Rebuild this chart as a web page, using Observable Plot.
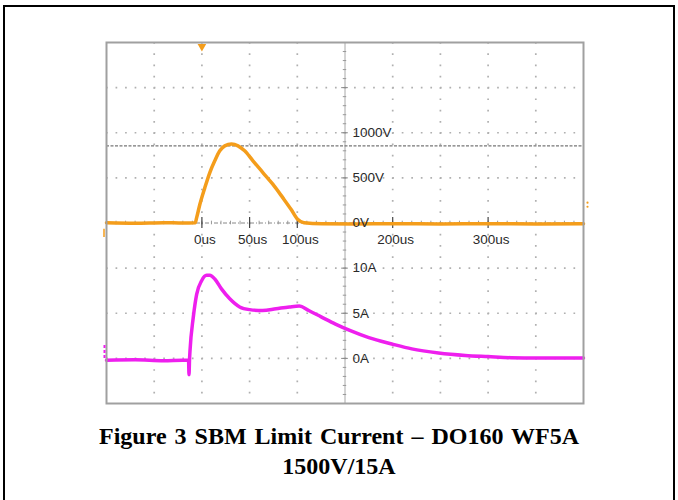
<!DOCTYPE html>
<html><head><meta charset="utf-8">
<script src="https://cdn.jsdelivr.net/npm/d3@7"></script>
<script src="https://cdn.jsdelivr.net/npm/@observablehq/plot@0.6"></script>
<style>
html,body{margin:0;padding:0;background:#fff;width:678px;height:500px;overflow:hidden;}
#page{position:relative;width:678px;height:500px;}
#frame{position:absolute;left:3px;top:5px;width:672px;height:520px;border:2px solid #000;box-sizing:border-box;}
#chart{position:absolute;left:0;top:0;}
#title{position:absolute;left:0;top:421px;width:678px;text-align:center;font-family:"Liberation Serif","Times New Roman",serif;font-weight:bold;font-size:24px;line-height:30px;color:#000;}
#title .l1{word-spacing:2px;}
</style></head>
<body><div id="page"><div id="frame"></div><div id="chart"></div><div id="title"><span class="l1">Figure 3 SBM Limit Current – DO160 WF5A</span><br>1500V/15A</div></div>
<script>
// ---- data read from the scope capture ----
const voltTime  = [-100, -70, -40, -20, -7, -5.5, -2.1, 3.1, 8.3, 13.5, 18.75, 24, 31, 37.8, 44.8, 53.5, 63.9, 74.3, 84.7, 93.4, 100.3, 107, 126, 160, 200, 250, 300, 350, 400];
const voltValue = [3, -2, 4, 0, 2, 59, 208, 392, 559, 689, 800, 855, 874, 855, 800, 689, 559, 430, 281, 152, 41, 3, -8, -10, -8, -10, -8, -10, -8];

const currTime  = [-100, -70, -40, -20, -14, -13.5, -13, -12.5, -9.1, -5.5, -0.3, 4.9, 8.3, 13.5, 20.5, 29.2, 39.6, 50, 63.5, 77.8, 91.7, 102, 112, 125, 140, 155, 175, 199, 220, 248, 276, 300, 324, 352, 400];
const currValue = [-0.2, -0.15, -0.25, -0.2, -0.2, -1.8, -0.2, 0.8, 4.5, 7.1, 8.6, 9.2, 9.2, 8.8, 7.7, 6.6, 5.7, 5.4, 5.3, 5.5, 5.7, 5.8, 5.3, 4.6, 3.8, 3.1, 2.3, 1.6, 1.05, 0.6, 0.33, 0.2, 0.08, 0.05, 0.05];

const timeTicks    = [0, 50, 100, 200, 300];       // us
const voltTicks    = [0, 500, 1000];               // V
const currentTicks = [0, 5, 10];                   // A
const cursorLevels = [855];                        // V (horizontal cursor)
const triggerTime  = [0];                          // us
const triggerLevels = [180, 225];                  // V (right-edge marker)

// scope settings: 50 us/div, 500 V/div, 5 A/div, CH2 offset 3 div below CH1
const timeDomain = [-100, 400];
const yDomain = [-2000, 2000];
const ampToUnits = 100;
const currentOffset = -1500;

const orange = "#f49d1b", magenta = "#ee1fee";
const W = 678, H = 410, mL = 106, mR = 95, mT = 42, mB = 7;
const pxPerUs = (W - mL - mR) / (timeDomain[1] - timeDomain[0]);
const pxPerUnit = (H - mT - mB) / (yDomain[1] - yDomain[0]);

const volt = voltTime.map((t, i) => ({t, v: voltValue[i]}));
const curr = currTime.map((t, i) => ({t, v: currentOffset + currValue[i] * ampToUnits}));

const gridX = d3.range(-50, 400, 50).filter(t => t !== 150);
const gridY = d3.range(-1500, 2000, 500).filter(v => v !== 0);
const dotV = 1.7;
const periodY = 125 * pxPerUnit;   // quarter division vertically
const periodX = 10 * pxPerUs;      // fifth division horizontally

const chart = Plot.plot({
  width: W, height: H,
  marginLeft: mL, marginRight: mR, marginTop: mT, marginBottom: mB,
  x: {domain: timeDomain, axis: null},
  y: {domain: yDomain, axis: null},
  style: {fontFamily: "'Liberation Sans', Arial, sans-serif", background: "transparent"},
  marks: [
    Plot.ruleX(gridX, {stroke: "#b0b0b0", strokeWidth: dotV, strokeDasharray: `${dotV} ${periodY - dotV}`}),
    Plot.ruleY(gridY, {stroke: "#b0b0b0", strokeWidth: dotV, strokeDasharray: `${dotV} ${periodX - dotV}`}),
    Plot.ruleX([150], {stroke: "#a8a8a8", strokeWidth: 1}),
    Plot.ruleY([0], {stroke: "#888", strokeWidth: 1, strokeDasharray: "4 2 1 2"}),
    Plot.ruleY(d3.range(-2000, 2001, 100), {x1: 148.2, x2: 151.8, stroke: "#999", strokeWidth: 1}),
    Plot.ruleY(gridY, {x1: 146.5, x2: 153.5, stroke: "#888", strokeWidth: 1}),
    Plot.ruleX(d3.range(-100, 401, 10), {y1: -20, y2: 20, stroke: "#999", strokeWidth: 1}),
    Plot.ruleY(cursorLevels, {stroke: "#777", strokeWidth: 1.2, strokeDasharray: "3 1.5"}),
    Plot.ruleX(timeTicks, {y1: -60, y2: 60, stroke: "#444", strokeWidth: 1.2}),
    Plot.line(volt, {x: "t", y: "v", stroke: orange, strokeWidth: 3.5, curve: "monotone-x"}),
    Plot.line(curr, {x: "t", y: "v", stroke: magenta, strokeWidth: 3.5, curve: "monotone-x"}),
    Plot.text(voltTicks, {x: 150, y: d => d, text: d => d + "V", dx: 7.5, textAnchor: "start", fontSize: 13.5, fill: "#2a2a2a"}),
    Plot.text(currentTicks, {x: 150, y: d => currentOffset + d * ampToUnits, text: d => d + "A", dx: 7.5, textAnchor: "start", fontSize: 13.5, fill: "#2a2a2a"}),
    Plot.text(timeTicks, {x: d => d, y: 0, text: d => d + "us", dy: 17, dx: 3, fontSize: 13.5, fill: "#2a2a2a"}),
    Plot.frame({stroke: "#a0a0a0", strokeWidth: 2}),
    Plot.dot(triggerTime, {x: d => d, y: yDomain[1], dy: 4, symbol: "triangle", r: 3.2, fill: orange, rotate: 180}),
    Plot.dot(triggerLevels, {x: timeDomain[1], y: d => d, dx: 4, r: 1.1, fill: orange}),
    Plot.ruleX([timeDomain[0]], {dx: -2.5, y1: -160, y2: -70, stroke: orange, strokeWidth: 1.5}),
    Plot.ruleX([timeDomain[0]], {dx: -2, y1: currentOffset, y2: currentOffset + 150, stroke: magenta, strokeWidth: 2, strokeDasharray: "3 2"})
  ]
});
document.getElementById("chart").appendChild(chart);
</script>
</body></html>
